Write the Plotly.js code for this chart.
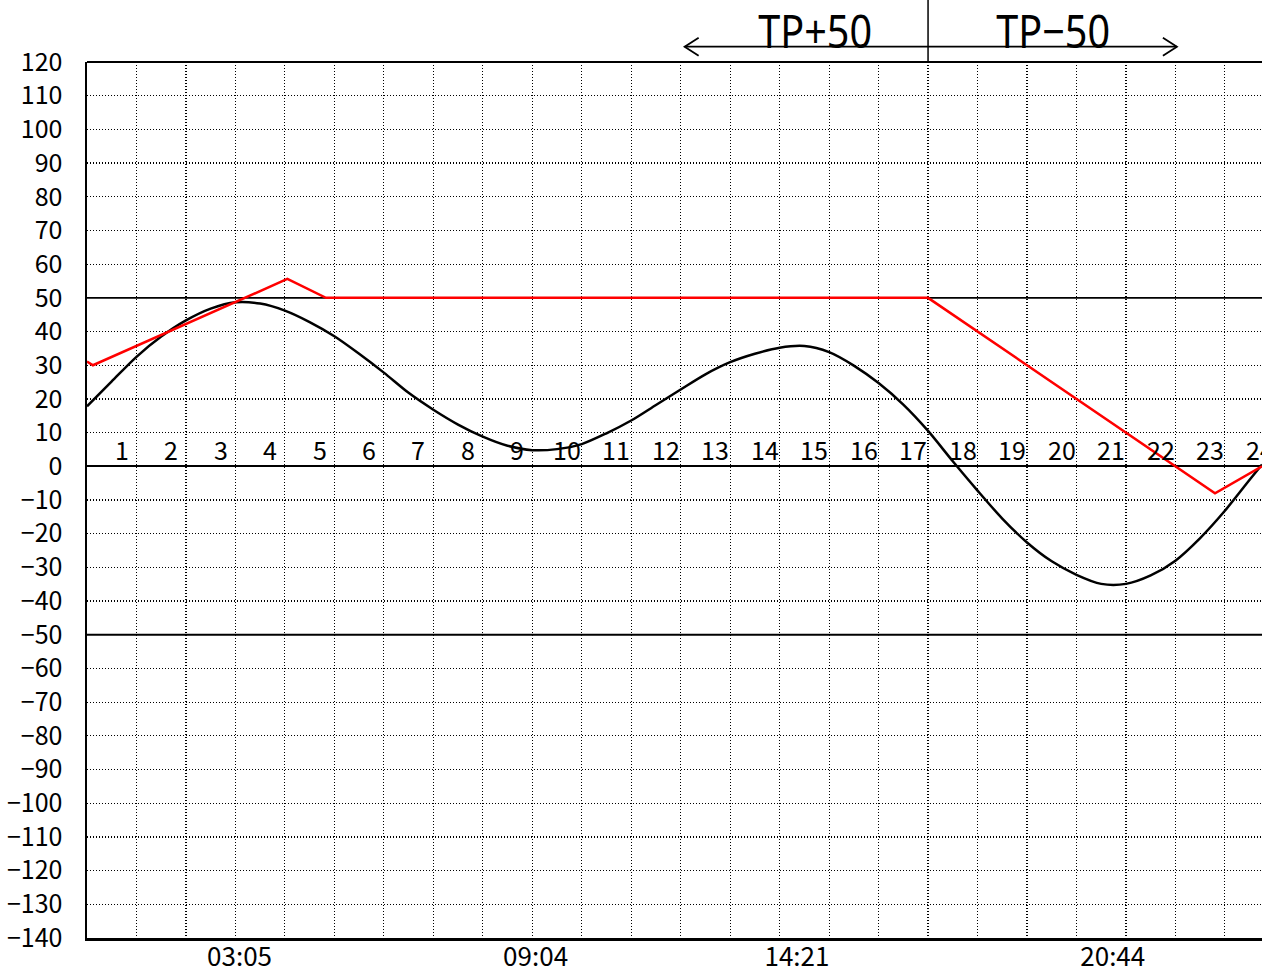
<!DOCTYPE html>
<html><head><meta charset="utf-8">
<script src="https://cdn.plot.ly/plotly-3.0.1.min.js"></script>
<style>html,body{margin:0;padding:0;overflow:hidden;background:#fff}</style>
</head><body><div id="chart" style="width:1262px;height:974px"></div>
<script>
// Tide curve (hours, level)
const tideHours = [0,0.5,1,1.5,2,2.5,3,3.5,4,4.5,5,5.5,6,6.5,7,7.5,8,8.5,9,9.5,10,10.5,11,11.5,12,12.5,13,13.5,14,14.5,15,15.5,16,16.5,17,17.5,18,18.5,19,19.5,20,20.5,21,21.5,22,22.5,23,23.5,23.75];
const tideLevels = [17.8,25.2,32.5,38.5,43.3,46.8,48.7,48.3,46.2,42.8,38.6,33.4,27.8,21.8,16.8,12.4,8.8,6.1,4.8,5.1,6.6,9.8,13.6,18.2,22.8,27.3,30.9,33.4,35.2,35.7,33.9,29.9,24.7,18.3,10.5,1.5,-7.2,-15.5,-22.6,-28.2,-32.2,-34.9,-34.9,-32.4,-28.0,-21.3,-13.2,-4.0,0.5];
// Red line (hours, level)
const limitHours = [0,0.12,4.05,4.83,17.0,22.8,23.75];
const limitLevels = [31.1,30.0,55.6,50,50,-8,0];
// High / low tide times
const extremeTimes = [3.083,9.067,14.35,20.733];
const extremeLabels = ['03:05','09:04','14:21','20:44'];
const hourLabels = [1,2,3,4,5,6,7,8,9,10,11,12,13,14,15,16,17,18,19,20,21,22,23,24];
const refLevels = [50,-50];
const zoneLabels = ['TP+50','TP\u221250'];
const zoneSplit = 17;
const zoneEnds = [12.08,22.03];

const tickFont = {family:'"Noto Sans CJK JP", "Noto Sans", sans-serif', size:25, color:'#000'};
const xTickFont = {family:'"Noto Sans CJK JP", "Noto Sans", sans-serif', size:26, color:'#000'};
const xMax = 23.75;

const traces = [
  {x: tideHours, y: tideLevels, type:'scatter', mode:'lines', line:{color:'#000', width:2.5, shape:'spline', smoothing:0.8}, hoverinfo:'skip'},
  {x: limitHours, y: limitLevels, type:'scatter', mode:'lines', line:{color:'#ff0000', width:2.5}, hoverinfo:'skip'}
];

const shapes = [];
refLevels.forEach(v => shapes.push({type:'line', xref:'paper', yref:'y', x0:0, x1:1, y0:v, y1:v, line:{color:'#000', width:1.8}, layer:'below'}));
// top border
shapes.push({type:'line', xref:'paper', yref:'paper', x0:0, x1:1, y0:1, y1:1, line:{color:'#000', width:2}});
// zone separator and arrows
shapes.push({type:'line', xref:'x', yref:'paper', x0:zoneSplit, x1:zoneSplit, y0:1, y1:1.08, line:{color:'#000', width:1.5}});
const arrowY = 1.0175;
shapes.push({type:'line', xref:'x', yref:'paper', x0:zoneEnds[0], x1:zoneEnds[1], y0:arrowY, y1:arrowY, line:{color:'#000', width:1.8}});
shapes.push({type:'path', xref:'x', yref:'paper', xsizemode:'pixel', ysizemode:'pixel', xanchor:zoneEnds[0], yanchor:arrowY, path:'M 14 9 L 0 0 L 14 -9', line:{color:'#000', width:1.8}});
shapes.push({type:'path', xref:'x', yref:'paper', xsizemode:'pixel', ysizemode:'pixel', xanchor:zoneEnds[1], yanchor:arrowY, path:'M -14 9 L 0 0 L -14 -9', line:{color:'#000', width:1.8}});

const annotations = hourLabels.map(h => ({x: h - 0.3, y: 5, xref:'x', yref:'y', text: String(h), showarrow:false, font: tickFont, xanchor:'center', yanchor:'middle'}));
const tpFont = {family:'"Noto Sans", sans-serif', size:46, color:'#000'};
annotations.push({x: 14.71, y: 1.036, xref:'x', yref:'paper', text: zoneLabels[0], showarrow:false, font: tpFont, xanchor:'center', yanchor:'middle'});
annotations.push({x: 19.52, y: 1.036, xref:'x', yref:'paper', text: zoneLabels[1], showarrow:false, font: tpFont, xanchor:'center', yanchor:'middle'});

const layout = {
  width:1262, height:974,
  margin:{l:87, r:0, t:62, b:36},
  paper_bgcolor:'#fff', plot_bgcolor:'#fff',
  showlegend:false,
  xaxis:{
    range:[0, xMax], tickmode:'array', tickvals: extremeTimes, ticktext: extremeLabels,
    showgrid:false, zeroline:false, showline:true, linecolor:'#000', linewidth:2.5,
    ticks:'', tickfont: xTickFont, ticklabelstandoff:-6,
    minor:{tick0:0, dtick:1, showgrid:true, gridcolor:'#000', gridwidth:1.2, griddash:'1px,2px', ticks:''}
  },
  yaxis:{
    range:[-140,120], dtick:10, tick0:0, showgrid:true, gridcolor:'#000', gridwidth:1.2, griddash:'1px,2px',
    zeroline:true, zerolinecolor:'#000', zerolinewidth:2,
    showline:true, linecolor:'#000', linewidth:2.5, ticks:'', ticklabelstandoff:17, tickfont: tickFont
  },
  shapes: shapes,
  annotations: annotations
};
Plotly.newPlot('chart', traces, layout, {staticPlot:true, displayModeBar:false}).then(gd => {
  gd.querySelectorAll('.annotation-text').forEach(t => {
    if (t.textContent.indexOf('TP') === 0) {
      t.style.transformBox = 'fill-box';
      t.style.transformOrigin = 'center';
      t.style.transform = 'scaleX(0.86)';
    }
  });
});
</script>
</body></html>
